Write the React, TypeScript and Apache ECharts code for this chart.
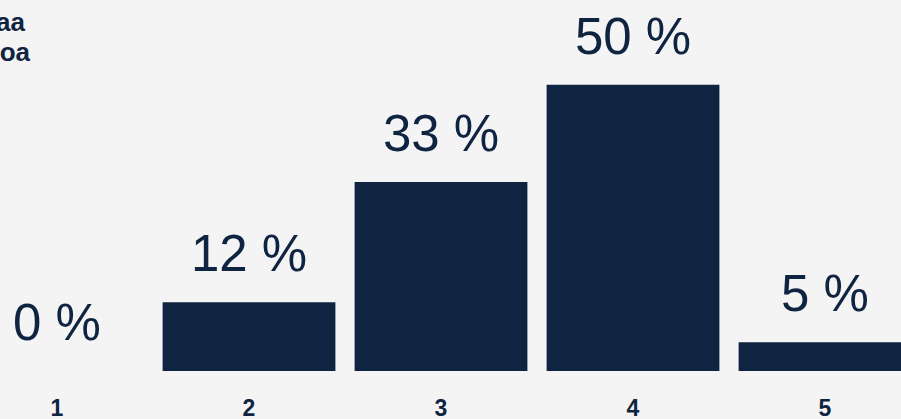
import React, { useEffect, useRef } from "react";
import * as echarts from "echarts";

const categories = ["1", "2", "3", "4", "5"];
const values = [0, 12, 33, 50, 5];
const titleLines = ["Vastaajaa", "Arvosanoa"];

const NAVY = "#0f2441";
const BG = "#f4f4f4";

export default function App() {
  const ref = useRef<HTMLDivElement>(null);
  useEffect(() => {
    if (!ref.current) return;
    const chart = echarts.init(ref.current, null, { renderer: "svg" });
    chart.setOption({
      animation: false,
      backgroundColor: BG,
      grid: { left: 0, right: 0, top: 27.4, bottom: 46, containLabel: false },
      xAxis: {
        type: "category",
        data: categories,
        axisLine: { show: false },
        axisTick: { show: false },
        axisLabel: {
          color: NAVY,
          fontFamily: "Liberation Sans",
          fontWeight: "bold",
          fontSize: 23,
          margin: 25,
        },
      },
      yAxis: {
        type: "value",
        min: 0,
        max: 60,
        show: false,
        splitLine: { show: false },
      },
      graphic: [
        {
          type: "text",
          x: 64,
          y: 9,
          style: {
            text: titleLines[0],
            align: "right",
            fill: NAVY,
            font: "bold 26px 'Liberation Sans'",
          },
        },
        {
          type: "text",
          x: 69,
          y: 39,
          style: {
            text: titleLines[1],
            align: "right",
            fill: NAVY,
            font: "bold 26px 'Liberation Sans'",
          },
        },
      ],
      series: [
        {
          type: "bar",
          data: values,
          barCategoryGap: "10%",
          itemStyle: { color: NAVY },
          label: {
            show: true,
            position: "top",
            distance: 23,
            formatter: (p: any) => `${p.value} %`,
            color: NAVY,
            fontFamily: "Liberation Sans",
            fontSize: 51,
          },
        },
      ],
    });
    return () => chart.dispose();
  }, []);
  return (
    <div
      style={{
        position: "fixed",
        left: 0,
        top: 0,
        width: 901,
        height: 419,
        overflow: "hidden",
        background: BG,
      }}
    >
      <div
        ref={ref}
        style={{ position: "absolute", left: -39, top: 0, width: 960, height: 419 }}
      />
    </div>
  );
}
